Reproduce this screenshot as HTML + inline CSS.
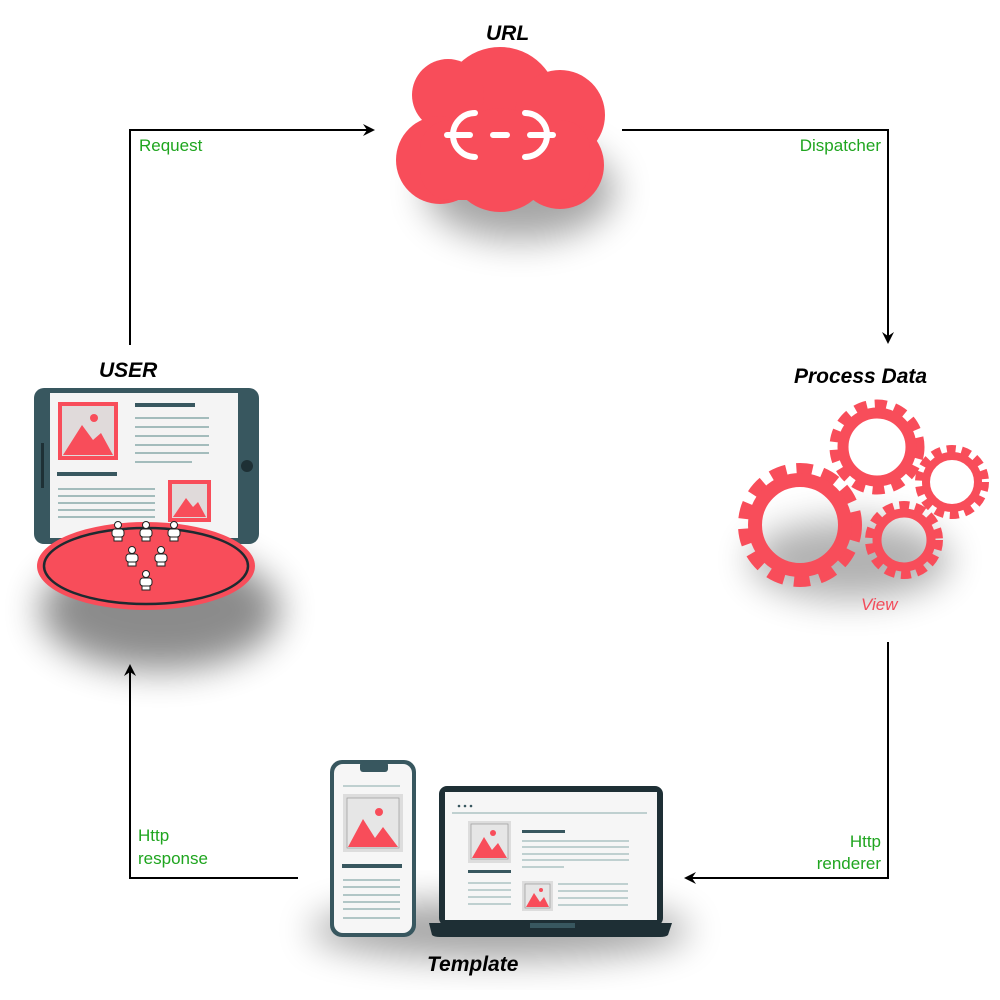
<!DOCTYPE html>
<html><head><meta charset="utf-8"><style>
html,body{margin:0;padding:0;background:#fff}
svg{display:block}
text{font-family:"Liberation Sans",sans-serif}
.t{font-weight:bold;font-style:italic;font-size:21px;fill:#000}
.g{font-size:17px;fill:#1fa51f}
</style></head><body>
<svg width="1000" height="1000" viewBox="0 0 1000 1000">
<defs>
<filter id="sh" x="-50%" y="-50%" width="200%" height="200%"><feGaussianBlur stdDeviation="18"/></filter>
<marker id="ar" markerWidth="12" markerHeight="12" refX="10" refY="6" orient="auto" markerUnits="userSpaceOnUse"><path d="M0,0 L12,6 L0,12 L4,6z" fill="#000"/></marker>
<g id="p"><circle cx="0" cy="-7" r="3.5"/><rect x="-6" y="-3" width="12" height="8" rx="3"/><rect x="-4" y="5" width="8" height="4"/></g>
</defs>
<!-- shadows -->
<ellipse cx="520" cy="190" rx="95" ry="50" fill="#000" opacity="0.35" filter="url(#sh)"/>
<ellipse cx="160" cy="610" rx="120" ry="60" fill="#000" opacity="0.45" filter="url(#sh)"/>
<ellipse cx="850" cy="560" rx="100" ry="40" fill="#000" opacity="0.3" filter="url(#sh)"/>
<ellipse cx="500" cy="930" rx="190" ry="30" fill="#000" opacity="0.35" filter="url(#sh)"/>

<!-- connectors -->
<g fill="none" stroke="#000" stroke-width="2">
<polyline points="130,345 130,130 373,130" marker-end="url(#ar)"/>
<polyline points="622,130 888,130 888,342" marker-end="url(#ar)"/>
<polyline points="888,642 888,878 686,878" marker-end="url(#ar)"/>
<polyline points="298,878 130,878 130,666" marker-end="url(#ar)"/>
</g>
<text class="g" x="139" y="151">Request</text>
<text class="g" x="881" y="151" text-anchor="end">Dispatcher</text>
<text class="g" x="881" y="847" text-anchor="end">Http</text>
<text class="g" x="881" y="869" text-anchor="end">renderer</text>
<text class="g" x="138" y="841">Http</text>
<text class="g" x="138" y="864">response</text>

<text class="t" x="486" y="40">URL</text>
<text class="t" x="99" y="377">USER</text>
<text class="t" x="794" y="383">Process Data</text>
<text class="t" x="427" y="971">Template</text>
<text x="861" y="610" style="font-style:italic;font-size:17px;fill:#f24b5a">View</text>

<!-- cloud -->
<g fill="#f84d5a">
<circle cx="500" cy="105" r="58"/>
<circle cx="448" cy="95" r="36"/>
<circle cx="560" cy="115" r="45"/>
<circle cx="440" cy="160" r="44"/>
<circle cx="500" cy="160" r="52"/>
<circle cx="560" cy="165" r="44"/>
<rect x="420" y="120" width="170" height="80" rx="30"/>
</g>
<g fill="none" stroke="#fff" stroke-width="6" stroke-linecap="round">
<path d="M475,113 A22,22 0 0 0 475,157"/>
<path d="M525,113 A22,22 0 0 1 525,157"/>
<line x1="447" y1="135" x2="470" y2="135"/>
<line x1="530" y1="135" x2="553" y2="135"/>
<line x1="493" y1="135" x2="507" y2="135"/>
</g>

<!-- tablet -->
<rect x="34" y="388" width="225" height="156" rx="10" fill="#38575f"/>
<rect x="50" y="393" width="188" height="145" fill="#f4f4f4"/>
<rect x="41" y="443" width="3" height="45" fill="#1e3035"/>
<circle cx="247" cy="466" r="6" fill="#1e3035"/>
<rect x="58" y="402" width="60" height="58" fill="#f84d5a"/>
<rect x="62" y="406" width="52" height="50" fill="#e0dada"/>
<path d="M63,455 L82,425 L93,440 L101,433 L113,455z" fill="#f84d5a"/>
<circle cx="94" cy="418" r="4" fill="#f84d5a"/>
<rect x="135" y="403" width="60" height="4" fill="#38575f"/>
<g stroke="#8aa" stroke-width="1.5"><line x1="135" y1="418" x2="209" y2="418"/><line x1="135" y1="427" x2="209" y2="427"/><line x1="135" y1="436" x2="209" y2="436"/><line x1="135" y1="445" x2="209" y2="445"/><line x1="135" y1="453" x2="209" y2="453"/><line x1="135" y1="462" x2="192" y2="462"/>
<line x1="58" y1="489" x2="155" y2="489"/><line x1="58" y1="496" x2="155" y2="496"/><line x1="58" y1="503" x2="155" y2="503"/><line x1="58" y1="510" x2="155" y2="510"/><line x1="58" y1="517" x2="155" y2="517"/></g>
<rect x="57" y="472" width="60" height="4" fill="#38575f"/>
<rect x="168" y="480" width="43" height="42" fill="#f84d5a"/>
<rect x="172" y="484" width="35" height="34" fill="#e0dada"/>
<path d="M173,517 L186,498 L193,507 L198,502 L206,517z" fill="#f84d5a"/>
<ellipse cx="146" cy="566" rx="109" ry="44" fill="#f84d5a"/>
<ellipse cx="146" cy="566" rx="102" ry="38" fill="none" stroke="#1e2a30" stroke-width="2.5"/>
<g fill="#fff" stroke="#222" stroke-width="1">
<use href="#p" x="118" y="532"/><use href="#p" x="146" y="532"/><use href="#p" x="174" y="532"/>
<use href="#p" x="132" y="557"/><use href="#p" x="161" y="557"/><use href="#p" x="146" y="581"/>
</g>

<!-- gears -->
<g fill="none" stroke="#f84d5a">
<circle cx="800" cy="525" r="56" stroke-width="12" stroke-dasharray="16 10"/>
<circle cx="800" cy="525" r="45" stroke-width="14"/>
<circle cx="877" cy="447" r="43" stroke-width="9" stroke-dasharray="12 8"/>
<circle cx="877" cy="447" r="34" stroke-width="11"/>
<circle cx="952" cy="482" r="33" stroke-width="8" stroke-dasharray="9 6"/>
<circle cx="952" cy="482" r="26" stroke-width="8"/>
<circle cx="904" cy="540" r="35" stroke-width="8" stroke-dasharray="10 6"/>
<circle cx="904" cy="540" r="27" stroke-width="9"/>
</g>

<!-- phone -->
<rect x="330" y="760" width="86" height="177" rx="12" fill="#38575f"/>
<rect x="334" y="764" width="78" height="169" rx="9" fill="#f6f6f6"/>
<rect x="360" y="762" width="28" height="10" rx="3" fill="#38575f"/>
<line x1="343" y1="786" x2="400" y2="786" stroke="#8aa" stroke-width="1"/>
<rect x="343" y="794" width="60" height="58" fill="#ddd"/>
<rect x="347" y="798" width="52" height="50" fill="#e6e6e6" stroke="#999" stroke-width="0.7"/>
<path d="M348,847 L363,819 L375,838 L383,827 L398,847z" fill="#f84d5a"/>
<circle cx="379" cy="812" r="4" fill="#f84d5a"/>
<rect x="342" y="864" width="60" height="4" fill="#38575f"/>
<g stroke="#8aa" stroke-width="1.2"><line x1="343" y1="880" x2="400" y2="880"/><line x1="343" y1="887" x2="400" y2="887"/><line x1="343" y1="895" x2="400" y2="895"/><line x1="343" y1="902" x2="400" y2="902"/><line x1="343" y1="909" x2="400" y2="909"/><line x1="343" y1="918" x2="400" y2="918"/></g>
<!-- laptop -->
<rect x="439" y="786" width="224" height="140" rx="8" fill="#1e2f35"/>
<rect x="445" y="792" width="212" height="128" fill="#f6f6f6"/>
<path d="M429,923 L672,923 L668,935 Q666,937 660,937 L440,937 Q434,937 432,935z" fill="#1e2f35"/>
<rect x="530" y="923" width="45" height="5" fill="#38575f"/>
<g fill="#38575f"><circle cx="459" cy="806" r="1.3"/><circle cx="465" cy="806" r="1.3"/><circle cx="471" cy="806" r="1.3"/></g>
<line x1="452" y1="813" x2="647" y2="813" stroke="#8aa" stroke-width="1"/>
<rect x="468" y="821" width="43" height="42" fill="#ddd"/>
<rect x="471" y="824" width="37" height="35" fill="#e6e6e6" stroke="#999" stroke-width="0.7"/>
<path d="M472,858 L484,837 L492,850 L498,843 L507,858z" fill="#f84d5a"/>
<circle cx="493" cy="833" r="3" fill="#f84d5a"/>
<rect x="468" y="870" width="43" height="3" fill="#38575f"/>
<rect x="522" y="830" width="43" height="3" fill="#38575f"/>
<g stroke="#8aa" stroke-width="1"><line x1="522" y1="841" x2="629" y2="841"/><line x1="522" y1="847" x2="629" y2="847"/><line x1="522" y1="854" x2="629" y2="854"/><line x1="522" y1="860" x2="629" y2="860"/><line x1="522" y1="867" x2="564" y2="867"/>
<line x1="468" y1="883" x2="511" y2="883"/><line x1="468" y1="890" x2="511" y2="890"/><line x1="468" y1="897" x2="511" y2="897"/><line x1="468" y1="904" x2="511" y2="904"/>
<line x1="558" y1="884" x2="628" y2="884"/><line x1="558" y1="891" x2="628" y2="891"/><line x1="558" y1="898" x2="628" y2="898"/><line x1="558" y1="905" x2="628" y2="905"/></g>
<rect x="522" y="881" width="31" height="30" fill="#ddd"/>
<rect x="525" y="884" width="25" height="24" fill="#e6e6e6" stroke="#999" stroke-width="0.7"/>
<path d="M526,907 L534,893 L540,902 L544,897 L549,907z" fill="#f84d5a"/>
<circle cx="541" cy="890" r="2" fill="#f84d5a"/>
</svg>
</body></html>
